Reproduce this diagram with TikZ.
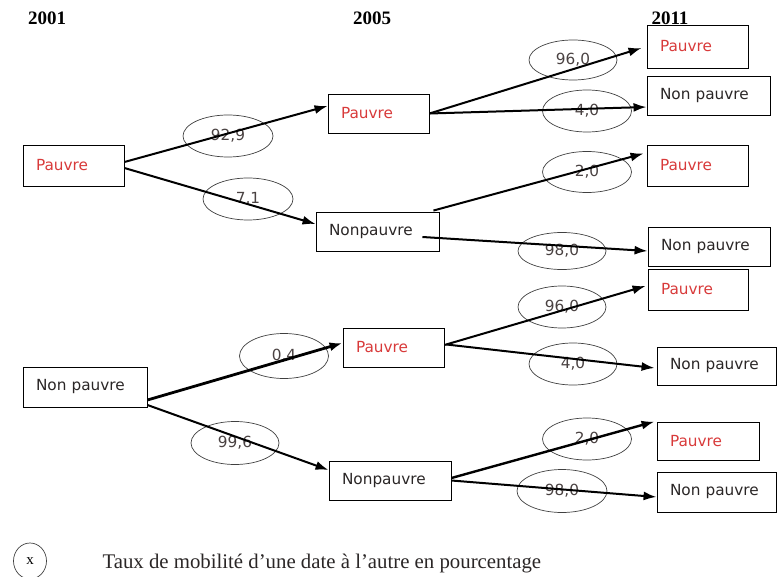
\documentclass[tikz,border=0pt]{standalone}
\usepackage{fontspec}
\setmainfont{Liberation Serif}
\newfontfamily\boxfont{DejaVu Sans}
\usetikzlibrary{arrows.meta,shapes.geometric}
\definecolor{pred}{HTML}{D83A3A}
\definecolor{ptxt}{HTML}{2A2626}
\definecolor{lbl}{HTML}{4A4242}
\tikzset{
  stbox/.style={draw=black, line width=0.9pt, rectangle, inner xsep=13pt, inner ysep=0pt,
    align=left, font=\boxfont\fontsize{15.3}{18}\selectfont, text=ptxt},
  redtxt/.style={text=pred},
  rate/.style={ellipse, draw=black!75, line width=0.7pt, inner sep=0pt,
    font=\boxfont\fontsize{15.3}{18}\selectfont, text=lbl},
  flow/.style={line width=2pt, -{Latex[length=13pt,width=9pt]}},
  yr/.style={font=\bfseries\fontsize{19}{22}\selectfont, text=black}
}
\begin{document}
\begin{tikzpicture}[x=1pt,y=-1pt]
\useasboundingbox (0,0) rectangle (778,577);
% years
\node[yr] (y1) at (47,18) {2001};
\node[yr] (y2) at (372,18) {2005};
\node[yr] (y3) at (670,18) {2011};
% boxes
\node[stbox,redtxt,minimum height=41pt,text width=75pt] (A) at (73.5,165.5) {Pauvre};
\node[stbox,redtxt,minimum height=39pt,text width=75pt] (B) at (378.5,113.5) {Pauvre};
\node[stbox,minimum height=39pt,text width=97pt] (C) at (377.5,231.5) {Nonpauvre};
\node[stbox,redtxt,minimum height=43pt,text width=75pt] (D1) at (697.5,46.5) {Pauvre};
\node[stbox,minimum height=39pt,text width=97pt] (D2) at (708.5,95.5) {Non pauvre};
\node[stbox,redtxt,minimum height=41pt,text width=75pt] (D3) at (697.5,165.5) {Pauvre};
\node[stbox,minimum height=39pt,text width=96pt] (D4) at (709,246.5) {Non pauvre};
\node[stbox,redtxt,minimum height=41pt,text width=74pt] (D5) at (698,289.5) {Pauvre};
\node[stbox,minimum height=40pt,text width=98pt] (E) at (85,387) {Non pauvre};
\node[stbox,redtxt,minimum height=39pt,text width=75pt] (F) at (393.5,347.5) {Pauvre};
\node[stbox,minimum height=39pt,text width=96pt] (G) at (390,480.5) {Nonpauvre};
\node[stbox,minimum height=38pt,text width=93pt] (H1) at (716.5,366) {Non pauvre};
\node[stbox,redtxt,minimum height=38pt,text width=76pt] (H2) at (708,441) {Pauvre};
\node[stbox,minimum height=40pt,text width=93pt] (H3) at (716.5,492) {Non pauvre};
% rate ellipses
\node[rate,minimum width=90pt,minimum height=42pt] (r1) at (228,136) {92,9};
\node[rate,minimum width=90pt,minimum height=42pt] (r2) at (248,199) {7,1};
\node[rate,minimum width=88pt,minimum height=40pt] (r3) at (573,60) {96,0};
\node[rate,minimum width=89pt,minimum height=42pt] (r4) at (587,111) {4,0};
\node[rate,minimum width=89pt,minimum height=41pt] (r5) at (587,172) {2,0};
\node[rate,minimum width=88pt,minimum height=37pt] (r6) at (562,251) {98,0};
\node[rate,minimum width=88pt,minimum height=42pt] (r7) at (562,307) {96,0};
\node[rate,minimum width=88pt,minimum height=42pt] (r8) at (573,364) {4,0};
\node[rate,minimum width=89pt,minimum height=42pt] (r9) at (587,439) {2,0};
\node[rate,minimum width=90pt,minimum height=43pt] (r10) at (562,491) {98,0};
\node[rate,minimum width=89pt,minimum height=45pt] (r11) at (284,356) {0,4};
\node[rate,minimum width=88pt,minimum height=43pt] (r12) at (235,443) {99,6};
% connectors
\draw[flow] ([shift={(0,-3.5)}]A.east) -- ([shift={(0,-7.5)}]B.west);
\draw[flow] ([shift={(0,2.5)}]A.east) -- ([shift={(0,-7.5)}]C.west);
\draw[flow] (B.east) -- ([shift={(-5,1.5)}]D1.west);
\draw[flow] (B.east) -- ([shift={(0,11.5)}]D2.west);
\draw[flow] ([shift={(-6,-1)}]C.north east) -- ([shift={(-3,-12)}]D3.west);
\draw[flow] ([shift={(-17,5.5)}]C.east) -- ([shift={(0,4.5)}]D4.west);
\draw[flow] ([shift={(0,-2.5)}]F.east) -- ([shift={(-2,-3.5)}]D5.west);
\draw[flow] ([shift={(2,-3)}]F.east) -- ([shift={(-2,2)}]H1.west);
\draw[flow,line width=2.8pt] ([shift={(0,13)}]E.east) -- ([shift={(0,-4.5)}]F.west);
\draw[flow] ([shift={(0,18)}]E.east) -- ([shift={(0,-10.5)}]G.west);
\draw[flow,line width=2.4pt] ([shift={(0,-2.5)}]G.east) -- ([shift={(-2,0)}]H2.north west);
\draw[flow] (G.east) -- ([shift={(0,5)}]H3.west);
% legend
\node[rate,minimum width=33pt,minimum height=36pt,font=\fontsize{15}{18}\selectfont,text=black] (lx) at (30,561) {x};
\node[anchor=base west,font=\fontsize{20.8}{24}\selectfont,text=ptxt] (lt) at (99,568) {Taux de mobilité d’une date à l’autre en pourcentage};
\end{tikzpicture}
\end{document}
